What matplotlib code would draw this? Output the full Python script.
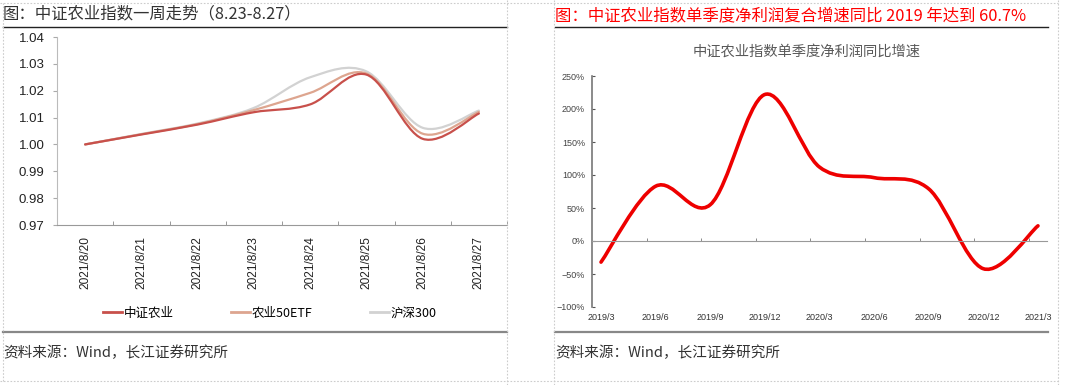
import matplotlib
matplotlib.use('Agg')
import matplotlib.pyplot as plt
from matplotlib.path import Path
from matplotlib.patches import PathPatch
from matplotlib.lines import Line2D
from matplotlib.ticker import FixedLocator, PercentFormatter

plt.rcParams['font.family'] = ['Liberation Sans', 'Noto Sans CJK SC', 'DejaVu Sans']

# ---- left chart data ----
dates = ['2021/8/20', '2021/8/21', '2021/8/22', '2021/8/23',
         '2021/8/24', '2021/8/25', '2021/8/26', '2021/8/27']
csi_agri = [1.000, 1.0037, 1.0074, 1.0120, 1.0149, 1.0260, 1.0021, 1.0115]
agri_etf = [1.000, 1.0038, 1.0076, 1.0128, 1.0192, 1.0264, 1.0040, 1.0121]
hs300 = [1.000, 1.0039, 1.0078, 1.0136, 1.0250, 1.0272, 1.0062, 1.0126]
left_names = ['中证农业', '农业50ETF', '沪深300']
left_colors = ['#C8504B', '#DDA58F', '#D2D2D2']

# ---- right chart data ----
quarters = ['2019/3', '2019/6', '2019/9', '2019/12', '2020/3',
            '2020/6', '2020/9', '2020/12', '2021/3']
growth = [-32, 83, 55, 222, 112, 96, 79, -42, 23]


def smooth_path(xs, ys):
    # excel-style smoothed line: cubic bezier through every point
    verts = [(xs[0], ys[0])]
    codes = [Path.MOVETO]
    n = len(xs)
    for i in range(n - 1):
        x0, y0 = xs[max(i - 1, 0)], ys[max(i - 1, 0)]
        x1, y1 = xs[i], ys[i]
        x2, y2 = xs[i + 1], ys[i + 1]
        x3, y3 = xs[min(i + 2, n - 1)], ys[min(i + 2, n - 1)]
        verts += [(x1 + (x2 - x0) / 6, y1 + (y2 - y0) / 6),
                  (x2 - (x3 - x1) / 6, y2 - (y3 - y1) / 6),
                  (x2, y2)]
        codes += [Path.CURVE4] * 3
    return Path(verts, codes)


fig = plt.figure(figsize=(10.8, 3.85), dpi=100)
W, H = 1080, 385


def fx(px):
    return px / W


def fy(py):
    return 1 - py / H


# ---------------- left chart ----------------
ax1 = fig.add_axes([fx(57), fy(225), fx(507 - 57), (225 - 37) / H])
for vals, col in zip([hs300, agri_etf, csi_agri], left_colors[::-1]):
    ax1.add_patch(PathPatch(smooth_path(list(range(len(dates))), vals),
                            fill=False, edgecolor=col, lw=1.6, capstyle='round'))
ax1.set_xlim(-0.5, len(dates) - 0.5)
ax1.set_ylim(0.97, 1.04)
ax1.set_yticks([0.97, 0.98, 0.99, 1.00, 1.01, 1.02, 1.03, 1.04])
ax1.yaxis.set_major_formatter(matplotlib.ticker.FormatStrFormatter('%.2f'))
ax1.set_xticks(range(len(dates)))
ax1.set_xticklabels(dates, rotation=90)
ax1.xaxis.set_minor_locator(FixedLocator([i - 0.5 for i in range(len(dates) + 1)]))
ax1.tick_params(axis='x', which='major', length=0, pad=8, labelsize=8.6,
                labelcolor='#222222')
ax1.tick_params(axis='x', which='minor', direction='in', length=3, color='#888888')
ax1.tick_params(axis='y', direction='out', length=3, color='#aaaaaa', labelsize=9.5,
                labelcolor='#222222', pad=6)
for s in ['top', 'right']:
    ax1.spines[s].set_visible(False)
ax1.spines['left'].set_color('#bbbbbb')
ax1.spines['bottom'].set_color('#999999')

handles = [Line2D([], [], color=c, lw=2) for c in left_colors]
fig.legend(handles, left_names, loc='center', bbox_to_anchor=(fx(270), fy(313)),
           ncol=3, frameon=False, handlelength=1.5, handletextpad=0.15,
           columnspacing=4.6, prop={'family': ['Noto Sans CJK SC'], 'size': 9})

# ---------------- right chart ----------------
ax2 = fig.add_axes([fx(592), fy(307), fx(1047 - 592), (307 - 76) / H])
ax2.add_patch(PathPatch(smooth_path(list(range(len(quarters))), growth),
                        fill=False, edgecolor='#EE0000', lw=2.6, capstyle='round'))
ax2.set_xlim(-0.165, len(quarters) - 1 + 0.165)
ax2.set_ylim(-100, 250)
ax2.set_yticks(range(-100, 251, 50))
ax2.yaxis.set_major_formatter(PercentFormatter(decimals=0))
ax2.set_xticks(range(len(quarters)))
ax2.set_xticklabels(quarters)
ax2.tick_params(axis='x', which='major', length=0, pad=4, labelsize=6.5,
                labelcolor='#333333')
ax2.tick_params(axis='y', direction='in', length=2, labelsize=6.5,
                labelcolor='#444444', color='#555555', pad=5)
ax2.spines['right'].set_visible(False)
ax2.spines['bottom'].set_visible(False)
ax2.spines['left'].set_color('#777777')
ax2.spines['left'].set_linewidth(1.2)
# zero line carries the category ticks
ax2.spines['top'].set_position(('data', 0))
ax2.spines['top'].set_color('#999999')
ax2.xaxis.set_minor_locator(FixedLocator([i - 0.165 for i in range(1, len(quarters))]))
ax2.tick_params(axis='x', which='minor', top=True, bottom=False, direction='out',
                length=2.5, color='#777777')
fig.text(fx(807), fy(52), '中证农业指数单季度净利润同比增速', ha='center', va='center',
         fontsize=10.3, color='#595959', family=['Noto Sans CJK SC'])

# ---------------- frame texts and rules ----------------
fig.text(fx(3), fy(14), '图：中证农业指数一周走势（8.23-8.27）', ha='left', va='center',
         fontsize=11.8, color='#333333', family=['Noto Sans CJK SC', 'DejaVu Sans'])
fig.text(fx(555), fy(16), '图：中证农业指数单季度净利润复合增速同比 2019 年达到 60.7%',
         ha='left', va='center', fontsize=11.8, color='#FF0000',
         family=['Noto Sans CJK SC', 'DejaVu Sans'])
for x0, x1 in [(3, 507), (555, 1048)]:
    fig.add_artist(Line2D([fx(x0), fx(x1)], [fy(27), fy(27)], color='#222222', lw=1))
    fig.add_artist(Line2D([fx(x0), fx(x1)], [fy(332), fy(332)], color='#888888', lw=1.6))
    fig.text(fx(x0), fy(353), '资料来源：Wind，长江证券研究所', ha='left', va='center',
             fontsize=10.5, color='#333333', family=['Noto Sans CJK SC', 'DejaVu Sans'])

# dotted panel borders
dot = dict(color='#cccccc', lw=0.8, ls=(0, (1.5, 1.5)))
fig.add_artist(Line2D([fx(507), fx(507)], [0, 1], **dot))
fig.add_artist(Line2D([fx(554), fx(554)], [0, 1], **dot))
fig.add_artist(Line2D([fx(1058), fx(1058)], [0, 1], **dot))
fig.add_artist(Line2D([0, fx(1058)], [fy(3), fy(3)], **dot))
fig.add_artist(Line2D([0, fx(1058)], [fy(381), fy(381)], **dot))
fig.add_artist(Line2D([fx(3), fx(3)], [fy(381), fy(3)], **dot))

fig.savefig('out.png', dpi=100)
